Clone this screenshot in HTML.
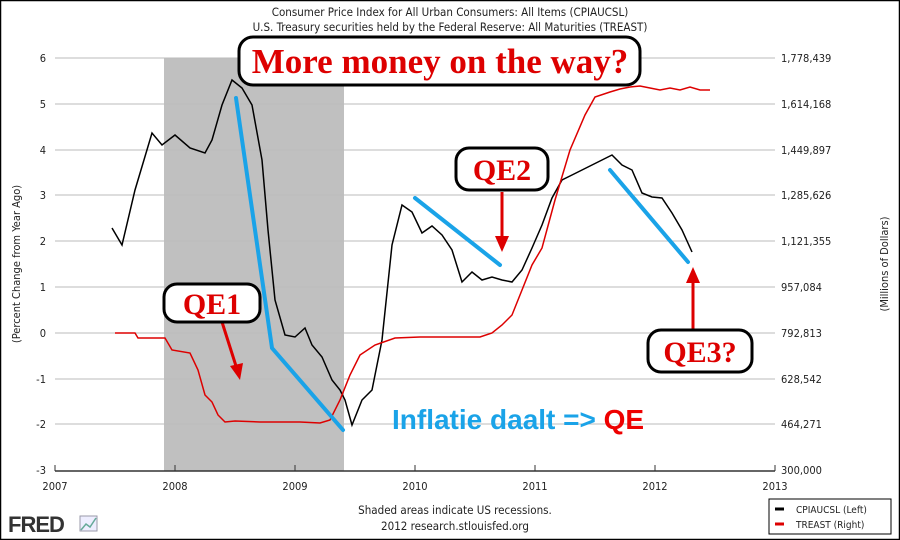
<!DOCTYPE html>
<html><head><style>body{margin:0;background:#fff}svg{display:block}</style></head><body>
<svg width="900" height="540" xmlns="http://www.w3.org/2000/svg" font-family="DejaVu Sans Condensed, Liberation Sans, sans-serif">
<rect x="0.5" y="0.5" width="899" height="539" fill="#fff" stroke="#000" stroke-width="1.5"/>
<text x="450" y="16" font-size="11.5" text-anchor="middle" fill="#222">Consumer Price Index for All Urban Consumers: All Items (CPIAUCSL)</text>
<text x="450" y="31" font-size="11.5" text-anchor="middle" fill="#222">U.S. Treasury securities held by the Federal Reserve: All Maturities (TREAST)</text>
<rect x="164" y="58" width="180" height="413" fill="#c0c0c0"/>
<g stroke="#bbb" stroke-width="1">
<line x1="55" y1="58" x2="775" y2="58"/><line x1="55" y1="104" x2="775" y2="104"/><line x1="55" y1="150" x2="775" y2="150"/><line x1="55" y1="195" x2="775" y2="195"/><line x1="55" y1="241" x2="775" y2="241"/><line x1="55" y1="287" x2="775" y2="287"/><line x1="55" y1="333" x2="775" y2="333"/><line x1="55" y1="379" x2="775" y2="379"/><line x1="55" y1="424" x2="775" y2="424"/>
</g>
<line x1="55" y1="471" x2="775" y2="471" stroke="#333" stroke-width="1.5"/>
<g stroke="#333"><line x1="55" y1="471" x2="55" y2="465"/><line x1="175" y1="471" x2="175" y2="465"/><line x1="295" y1="471" x2="295" y2="465"/><line x1="415" y1="471" x2="415" y2="465"/><line x1="535" y1="471" x2="535" y2="465"/><line x1="655" y1="471" x2="655" y2="465"/><line x1="775" y1="471" x2="775" y2="465"/></g>
<g font-size="11" fill="#222" text-anchor="end">
<text x="46" y="62">6</text><text x="46" y="108">5</text><text x="46" y="154">4</text><text x="46" y="199">3</text><text x="46" y="245">2</text><text x="46" y="291">1</text><text x="46" y="337">0</text><text x="46" y="383">-1</text><text x="46" y="428">-2</text><text x="46" y="474">-3</text>
</g>
<g font-size="11" fill="#222">
<text x="781" y="62">1,778,439</text><text x="781" y="108">1,614,168</text><text x="781" y="154">1,449,897</text><text x="781" y="199">1,285,626</text><text x="781" y="245">1,121,355</text><text x="781" y="291">957,084</text><text x="781" y="337">792,813</text><text x="781" y="383">628,542</text><text x="781" y="428">464,271</text><text x="781" y="474">300,000</text>
</g>
<g font-size="11" fill="#222" text-anchor="middle">
<text x="55" y="490">2007</text><text x="175" y="490">2008</text><text x="295" y="490">2009</text><text x="415" y="490">2010</text><text x="535" y="490">2011</text><text x="655" y="490">2012</text><text x="775" y="490">2013</text>
</g>
<text transform="translate(20,264) rotate(-90)" font-size="11" text-anchor="middle" fill="#222">(Percent Change from Year Ago)</text>
<text transform="translate(888,264) rotate(-90)" font-size="11" text-anchor="middle" fill="#222">(Millions of Dollars)</text>
<polyline fill="none" stroke="#000" stroke-width="1.5" points="112,228 122,245 135,190 152,133 162,145 175,135 190,148 205,153 212,140 222,105 232,80 242,88 252,105 262,160 268,230 275,300 285,335 295,337 305,328 312,345 322,357 332,380 340,390 345,400 352,425 362,400 372,390 382,340 392,245 402,205 412,212 422,233 432,226 442,235 452,250 462,282 472,272 482,280 492,277 502,280 512,282 522,270 532,248 542,225 552,198 562,180 572,175 582,170 592,165 602,160 612,155 622,165 632,170 642,193 652,197 662,198 672,213 682,230 692,252"/>
<polyline fill="none" stroke="#d00" stroke-width="1.5" points="115,333 135,333 138,338 165,338 172,350 190,353 198,370 205,395 212,402 218,415 225,422 235,421 260,422 280,422 300,422 320,423 330,420 340,400 350,375 360,355 375,345 395,338 420,337 480,337 492,333 502,325 512,315 522,290 532,265 542,248 555,200 570,150 585,115 595,97 610,92 620,89 630,87 640,86 650,88 660,90 670,88 680,90 690,87 700,90 710,90"/>
<g stroke="#1aa3e8" stroke-width="4" fill="none" stroke-linecap="round">
<polyline points="236,98 272,348 343,430"/><line x1="415" y1="198" x2="500" y2="265"/><line x1="610" y1="170" x2="688" y2="262"/>
</g>
<rect x="239" y="37" width="401" height="48" rx="14" fill="#fff" stroke="#000" stroke-width="3"/>
<text x="440" y="73" font-family="Liberation Serif, serif" font-weight="bold" font-size="35" fill="#d00" text-anchor="middle">More money on the way?</text>
<g stroke="#d00" stroke-width="3" fill="#d00">
<line x1="222" y1="322" x2="236" y2="366"/><polygon points="240,380 230,366 243,363" stroke="none"/>
<line x1="502" y1="192" x2="502" y2="238"/><polygon points="502,252 495,236 509,236" stroke="none"/>
<line x1="693" y1="330" x2="693" y2="282"/><polygon points="693,267 686,283 700,283" stroke="none"/>
</g>
<g stroke="#000" stroke-width="3" fill="#fff">
<rect x="164" y="284" width="96" height="38" rx="13"/><rect x="456" y="148" width="92" height="42" rx="13"/><rect x="648" y="330" width="104" height="42" rx="13"/>
</g>
<g font-family="Liberation Serif, serif" font-weight="bold" font-size="30" fill="#d00" text-anchor="middle">
<text x="212" y="314">QE1</text><text x="502" y="180">QE2</text><text x="700" y="362">QE3?</text>
</g>
<text x="392" y="429" font-family="Liberation Sans, sans-serif" font-weight="bold" font-size="28" fill="#1aa3e8">Inflatie daalt =&gt; <tspan fill="#e00">QE</tspan></text>
<text x="455" y="514" font-size="11.5" text-anchor="middle" fill="#222">Shaded areas indicate US recessions.</text>
<text x="455" y="530" font-size="11.5" text-anchor="middle" fill="#222">2012 research.stlouisfed.org</text>
<text x="8" y="532" font-family="Liberation Sans, sans-serif" font-weight="bold" font-size="22" fill="#333" letter-spacing="-1">FRED</text>
<rect x="80" y="516" width="17" height="15" fill="#eef" stroke="#99a"/>
<polyline points="81,530 86,524 90,527 96,518" fill="none" stroke="#6a9" stroke-width="1.5"/>
<rect x="769" y="499" width="122" height="35" fill="#fff" stroke="#000"/>
<line x1="775" y1="509" x2="784" y2="509" stroke="#000" stroke-width="3"/>
<line x1="775" y1="524" x2="784" y2="524" stroke="#d00" stroke-width="3"/>
<text x="796" y="513" font-size="10" fill="#222">CPIAUCSL (Left)</text>
<text x="796" y="528" font-size="10" fill="#222">TREAST (Right)</text>
</svg>
</body></html>
